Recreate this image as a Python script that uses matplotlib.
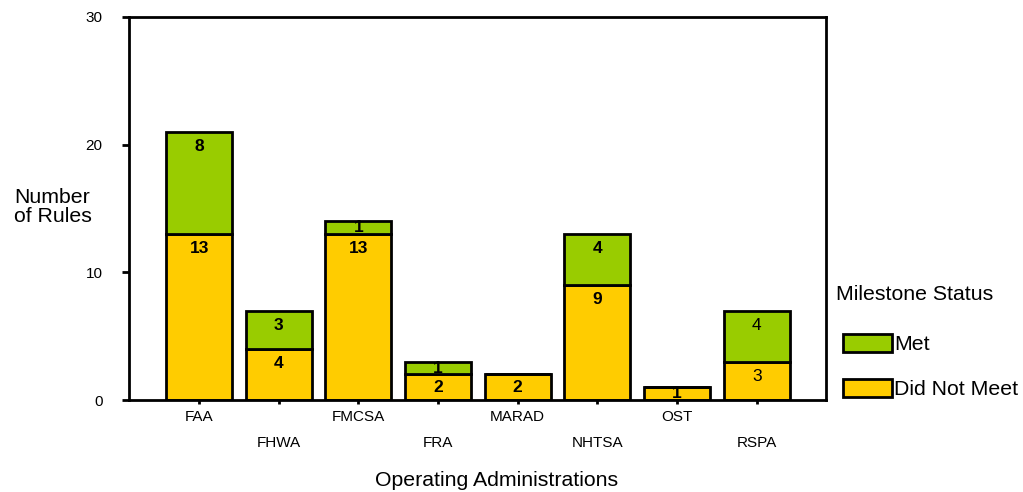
import matplotlib
matplotlib.use("Agg")
import matplotlib.pyplot as plt
from matplotlib.patches import Patch

plt.rcParams["font.family"] = ["Liberation Sans", "DejaVu Sans"]

# data
admins = ["FAA", "FHWA", "FMCSA", "FRA", "MARAD", "NHTSA", "OST", "RSPA"]
did_not_meet = [13, 4, 13, 2, 2, 9, 1, 3]
met = [8, 3, 1, 1, 0, 4, 0, 4]
y_ticks = [0, 10, 20, 30]

GREEN = "#99CC00"
YELLOW = "#FFCC00"
LW = 2.0
plain_labels = {"RSPA"}  # labels for these bars are not bold in the original


def label_y(bottom, height):
    # near the top of the segment, but centred when the segment is small
    return max(bottom + height / 2, bottom + height - 1.15)


fig = plt.figure(figsize=(10.23, 4.92), dpi=100)
ax = fig.add_axes([129 / 1023, 1 - 400 / 492, (826 - 129) / 1023, (400 - 17) / 492])

xs = list(range(len(admins)))
width = 0.83
ax.bar(xs, did_not_meet, width, color=YELLOW, edgecolor="black", linewidth=LW, zorder=2)
ax.bar(xs, met, width, bottom=did_not_meet, color=GREEN, edgecolor="black", linewidth=LW, zorder=2)

for x, name, d, m in zip(xs, admins, did_not_meet, met):
    weight = "normal" if name in plain_labels else "bold"
    if d > 0:
        ax.text(x, label_y(0, d), str(d), ha="center", va="center",
                fontsize=12.5, fontweight=weight, zorder=3)
    if m > 0:
        ax.text(x, label_y(d, m), str(m), ha="center", va="center",
                fontsize=12.5, fontweight=weight, zorder=3)

ax.set_xlim(-0.88, len(admins) - 1 + 0.87)
ax.set_ylim(0, 30)
ax.set_yticks(y_ticks)
ax.set_yticklabels([str(t) for t in y_ticks], fontsize=11)
ax.set_xticks(xs)
ax.set_xticklabels(admins, fontsize=11)

for s in ax.spines.values():
    s.set_linewidth(LW)
ax.tick_params(axis="y", direction="out", length=5, width=LW, pad=14)
ax.tick_params(axis="x", direction="out", length=3, width=LW, pad=4)
for i, tick in enumerate(ax.xaxis.get_major_ticks()):
    if i % 2 == 1:
        tick.set_pad(23)

fig.text(14 / 1023, 1 - 207 / 492, "Number\nof Rules", ha="left", va="center",
         fontsize=15.3, linespacing=1.05)
fig.text(497 / 1023, 1 - 481 / 492, "Operating Administrations", ha="center", va="center",
         fontsize=15.3)

fig.text(836 / 1023, 1 - 295 / 492, "Milestone Status", ha="left", va="center", fontsize=15.3)
handles = [
    Patch(facecolor=GREEN, edgecolor="black", linewidth=LW, label="Met"),
    Patch(facecolor=YELLOW, edgecolor="black", linewidth=LW, label="Did Not Meet"),
]
fig.legend(handles=handles, loc="upper left",
           bbox_to_anchor=(843 / 1023, 1 - 334 / 492), frameon=False,
           fontsize=15.3, handlelength=2.3, handleheight=0.95,
           handletextpad=0.12, labelspacing=1.15, borderaxespad=0, borderpad=0)

fig.savefig("out.png", dpi=100)
